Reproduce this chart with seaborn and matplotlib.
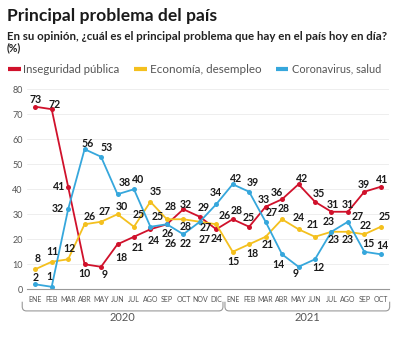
import numpy as np
import pandas as pd
import matplotlib
matplotlib.use("Agg")
import matplotlib.pyplot as plt
import seaborn as sns
from matplotlib.path import Path
from matplotlib.patches import PathPatch
from matplotlib.lines import Line2D
import matplotlib.transforms as mtrans

# ---------------- data ----------------
months = ["ENE", "FEB", "MAR", "ABR", "MAY", "JUN", "JUL", "AGO", "SEP", "OCT", "NOV", "DIC",
          "ENE", "FEB", "MAR", "ABR", "MAY", "JUN", "JUL", "AGO", "SEP", "OCT"]
years = ["2020", "2021"]
series_names = ["Inseguridad pública", "Economía, desempleo", "Coronavirus, salud"]
inseguridad = [73, 72, 41, 10, 9, 18, 21, 24, 26, 32, 29, 24,
               28, 25, 33, 36, 42, 35, 31, 31, 39, 41]
economia = [8, 11, 12, 26, 27, 30, 25, 35, 28, 28, 27, 26,
            15, 18, 21, 28, 24, 21, 23, 23, 22, 25]
coronavirus = [2, 1, 32, 56, 53, 38, 40, 25, 26, 22, 27, 34,
               42, 39, 27, 14, 9, 12, 23, 27, 15, 14]
y_ticks = [0, 10, 20, 30, 40, 50, 60, 70, 80]

# ---------------- style ----------------
colors = ["#d0112b", "#f4c01e", "#36a7dc"]
# label offsets in pixels (dx, dy), layout only
off_red = [(0, 7), (3, 5), (-9, 0), (0, -9), (4, -8), (4, -13), (4, -11), (3, -11), (1, -9),
           (2, 5), (4, 9), (0, -9), (4, 9), (0, 9), (-2, 7), (-5, 7), (3, 6), (4, 8),
           (1, 7), (0, 7), (-1, 7), (1, 7)]
off_yel = [(2, 11), (1, 10), (1, 11), (5, 8), (4, 10), (4, 8), (5, 12), (5, 10), (4, 13),
           (2, -7), (5, -18), (8, 9), (1, -10), (3, -9), (2, -8), (2, 11), (0, 12), (-2, 12),
           (-3, 10), (0, -8), (1, 9), (4, 10)]
off_blu = [(0, 7), (-2, 10), (-10, 1), (3, 6), (6, 9), (7, 12), (4, 10), (7, 10), (4, -19),
           (2, -9), (6, -6), (0, 12), (3, 6), (4, 9), (6, 9), (-4, -10), (-3, -7), (3, -8),
           (2, -8), (10, 5), (4, 8), (2, 9)]
offsets = [off_red, off_yel, off_blu]

sns.set_theme(style="white")
plt.rcParams['font.family'] = ['Lato', 'DejaVu Sans']

W, H = 400, 344
fig = plt.figure(figsize=(W / 100, H / 100), dpi=100)
fig.patch.set_facecolor("white")

ax_left, ax_right = 27, 389
y0px, y80px = 289.3, 89.2
ax = fig.add_axes([ax_left / W, 1 - y0px / H, (ax_right - ax_left) / W, (y0px - y80px) / H])

x_idx = list(range(len(months)))
frames = []
for name, vals in zip(series_names, [inseguridad, economia, coronavirus]):
    frames.append(pd.DataFrame({"idx": x_idx, "valor": vals, "serie": name}))
df = pd.concat(frames, ignore_index=True)

sns.lineplot(data=df, x="idx", y="valor", hue="serie", hue_order=series_names,
             palette=colors, marker="o", markersize=3.6, markeredgewidth=0,
             linewidth=1.3, legend=False, ax=ax, sort=False)

ax.set_xlim(-0.5, len(months) - 0.5)
ax.set_ylim(0, 80)
ax.set_xlabel("")
ax.set_ylabel("")
ax.set_yticks(y_ticks)
ax.set_yticklabels([str(v) for v in y_ticks], fontsize=6.5, color="#555555")
ax.tick_params(axis="y", length=0, pad=3)
ax.set_xticks(x_idx)
ax.set_xticklabels(months, fontsize=5.0, color="#555555")
ax.tick_params(axis="x", length=0, pad=4.5)
ax.set_xticks([i - 0.5 for i in range(len(months) + 1)], minor=True)
ax.tick_params(axis="x", which="minor", direction="in", length=4, width=0.8, color="#999999")
ax.yaxis.grid(True, color="#eeeeee", linewidth=0.7)
ax.set_axisbelow(True)
for s in ["top", "right", "left"]:
    ax.spines[s].set_visible(False)
ax.spines["bottom"].set_color("#999999")
ax.spines["bottom"].set_linewidth(0.8)

# data labels
for vals, offs in zip([inseguridad, economia, coronavirus], offsets):
    for i, (v, (dx, dy)) in enumerate(zip(vals, offs)):
        ax.annotate(str(v), (i, v), xytext=(dx, dy), textcoords="offset pixels",
                    ha="center", va="center", fontsize=7.6, fontweight="bold",
                    color="#1a1a1a", zorder=5)

# year brackets
trans = mtrans.blended_transform_factory(ax.transData, ax.transAxes)
def bracket(x0, x1, label):
    yt, yb = -0.062, -0.108
    rx, ry = 0.25, 0.022
    verts = [(x0, yt), (x0, yb + ry), (x0, yb), (x0 + rx, yb), (x1 - rx, yb),
             (x1, yb), (x1, yb + ry), (x1, yt)]
    codes = [Path.MOVETO, Path.LINETO, Path.CURVE3, Path.CURVE3, Path.LINETO,
             Path.CURVE3, Path.CURVE3, Path.LINETO]
    p = PathPatch(Path(verts, codes), transform=trans, fill=False,
                  edgecolor="#999999", linewidth=0.8, clip_on=False)
    ax.add_patch(p)
    ax.text((x0 + x1) / 2, -0.14, label, transform=trans, ha="center", va="center",
            fontsize=8, color="#555555")

bracket(-0.79, 11.41, years[0])
bracket(11.53, 21.54, years[1])

# titles and legend with fitted widths
renderer = fig.canvas.get_renderer()
def fit_text(x, y, s, target_w, size, **kw):
    t = fig.text(x / W, 1 - y / H, s, fontsize=size, **kw)
    w = t.get_window_extent(renderer).width
    t.set_fontsize(size * target_w / w)
    return t

fit_text(7, 20.5, "Principal problema del país", 208, 12, fontweight="bold",
         color="#1a1a1a", va="baseline", ha="left")
fit_text(7, 39.5, "En su opinión, ¿cuál es el principal problema que hay en el país hoy en día?",
         383, 8, fontweight="bold", color="#222222", va="baseline", ha="left")
fig.text(7 / W, 1 - 51 / H, "(%)", fontsize=7.6, fontweight="bold", color="#222222",
         va="baseline", ha="left")

leg = [(8, 21, 23, 97), (134, 147, 150, 112), (276, 288, 292, 90)]
for (lx0, lx1, tx, tw), name, c in zip(leg, series_names, colors):
    fig.add_artist(Line2D([lx0 / W, lx1 / W], [1 - 69.3 / H, 1 - 69.3 / H], color=c,
                          linewidth=3, solid_capstyle="butt", transform=fig.transFigure))
    fit_text(tx, 69.3, name, tw, 8, color="#555555", va="center", ha="left")

fig.savefig("out.png", dpi=100, facecolor="white")
